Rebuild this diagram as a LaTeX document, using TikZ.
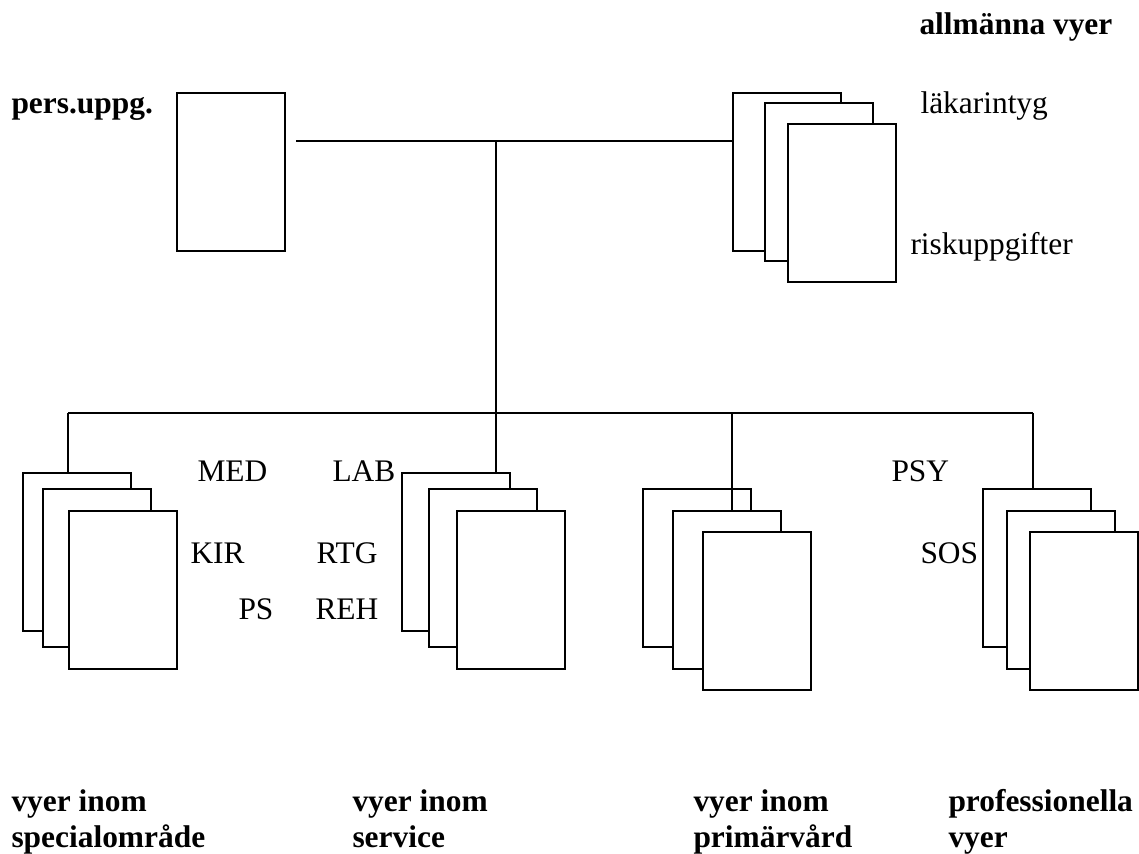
\documentclass[tikz,border=0pt]{standalone}
\usepackage{fontspec}
\setmainfont{Liberation Serif}
\usepackage{tikz}
\usetikzlibrary{positioning}
\tikzset{
  page/.style={rectangle, draw=black, fill=white, inner sep=0pt,
    minimum width=41.3pt, minimum height=60.4pt, anchor=north west,
    line width=0.8pt},
  tag/.style={anchor=base west, inner sep=0pt,
    font=\fontsize{12}{13.8}\selectfont},
  heading/.style={anchor=base west, inner sep=0pt, align=left,
    font=\fontsize{12}{13.8}\selectfont\bfseries},
  line/.style={line width=0.8pt, color=black}
}

\begin{document}
\begin{tikzpicture}[x=0.382pt, y=-0.382pt]
  \useasboundingbox (0,0) rectangle (1139,854);

  % sheets
  \node[page] (pers) at (176,92) {};
  \foreach \n/\x/\y in {1/732/92, 2/764/102, 3/787/123}
    \node[page] (gen\n) at (\x,\y) {};
  \foreach \n/\x/\y in {1/22/472, 2/42/488, 3/68/510}
    \node[page] (spec\n) at (\x,\y) {};
  \foreach \n/\x/\y in {1/401/472, 2/428/488, 3/456/510}
    \node[page] (serv\n) at (\x,\y) {};
  \foreach \n/\x/\y in {1/642/488, 2/672/510, 3/702/531}
    \node[page] (prim\n) at (\x,\y) {};
  \foreach \n/\x/\y in {1/982/488, 2/1006/510, 3/1029/531}
    \node[page] (prof\n) at (\x,\y) {};

  % lines
  \coordinate (topl) at (296,141);
  \coordinate (hub) at (496,141);
  \coordinate (bus) at (496,413);
  \coordinate (busl) at (68,413);
  \coordinate (busp) at (732,413);
  \coordinate (busr) at (1033,413);
  \draw[line] (topl) -- (topl -| gen1.west);
  \draw[line] (hub) -- (bus);
  \draw[line] (busl) -- (busr);
  \draw[line] (busl) -- (busl |- spec1.north);
  \draw[line] (bus) -- (bus |- serv1.north);
  \draw[line] (busp) -- (busp |- prim2.north);
  \draw[line] (busr) -- (busr |- prof1.north);

  % texts
  \node[heading] (hpers) at (11,114) {pers.uppg.};
  \node[heading] (hgen) at (919,35) {allmänna vyer};
  \node[tag] (tlak) at (920,114) {läkarintyg};
  \node[tag] (trisk) at (910,255) {riskuppgifter};
  \node[tag] (tmed) at (197,482) {MED};
  \node[tag] (tkir) at (190,564) {KIR};
  \node[tag] (tps) at (238,620) {PS};
  \node[tag] (tlab) at (332,482) {LAB};
  \node[tag] (trtg) at (316,564) {RTG};
  \node[tag] (treh) at (315,620) {REH};
  \node[tag] (tpsy) at (891,482) {PSY};
  \node[tag] (tsos) at (920,564) {SOS};
  \node[heading] (hspec) at (11,848) {vyer inom\\specialområde};
  \node[heading] (hserv) at (352,848) {vyer inom\\service};
  \node[heading] (hprim) at (693,848) {vyer inom\\primärvård};
  \node[heading] (hprof) at (948,848) {professionella\\vyer};
\end{tikzpicture}
\end{document}
